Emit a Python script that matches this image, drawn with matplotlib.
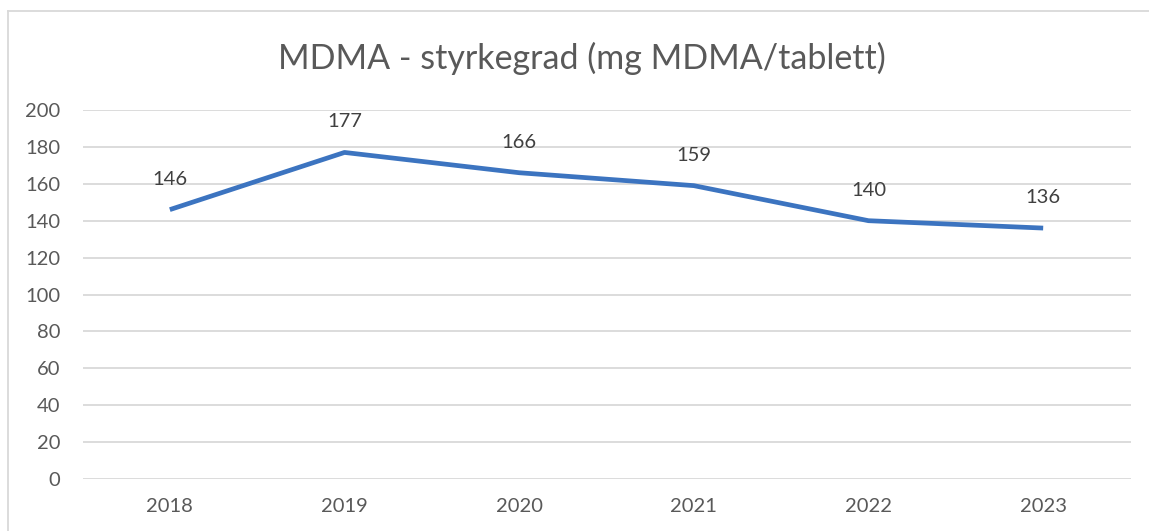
import matplotlib.pyplot as plt
from matplotlib.lines import Line2D

# data
years = ['2018', '2019', '2020', '2021', '2022', '2023']
strength = [146, 177, 166, 159, 140, 136]
yticks = [0, 20, 40, 60, 80, 100, 120, 140, 160, 180, 200]

plt.rcParams['font.family'] = ['Lato', 'DejaVu Sans']
txt = '#595959'
grid = '#d9d9d9'
blue = '#3c74c0'

fig = plt.figure(figsize=(11.49, 5.31), dpi=100)
ax = fig.add_axes([82.5 / 1149, 52 / 531, 1048 / 1149, 369 / 531])

x = list(range(len(years)))
ax.plot(x, strength, color=blue, lw=3.4, solid_capstyle='butt', solid_joinstyle='round', zorder=3)
for xi, v in zip(x, strength):
    ax.annotate(str(v), (xi, v), xytext=(0, 22), textcoords='offset points',
                ha='center', va='center', fontsize=14.5, color='#404040')

ax.set_xlim(-0.5, len(years) - 0.5)
ax.set_ylim(0, 200)
ax.set_yticks(yticks)
ax.set_xticks(x)
ax.set_xticklabels(years)
ax.tick_params(axis='both', length=0, labelsize=14.5, labelcolor=txt)
ax.tick_params(axis='y', pad=16)
ax.tick_params(axis='x', pad=14)
ax.grid(axis='y', color=grid, lw=1.3)
ax.set_axisbelow(True)
for s in ax.spines.values():
    s.set_visible(False)

fig.text(582 / 1149, 1 - 58 / 531, 'MDMA - styrkegrad (mg MDMA/tablett)',
         ha='center', va='center', fontsize=24.5, color=txt)

# chart border (left and top visible)
fig.add_artist(Line2D([7.5 / 1149, 7.5 / 1149], [0, 1 - 11 / 531], color=grid, lw=1.3, transform=fig.transFigure))
fig.add_artist(Line2D([7.5 / 1149, 1], [1 - 11 / 531, 1 - 11 / 531], color=grid, lw=1.3, transform=fig.transFigure))

fig.savefig('out.png', dpi=100)
